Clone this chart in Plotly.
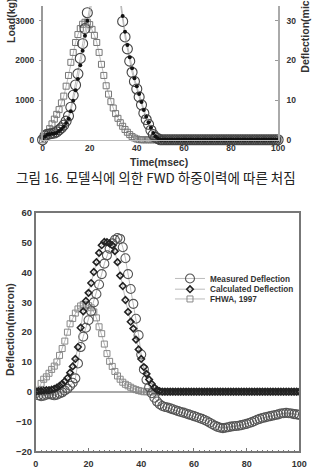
import plotly.graph_objects as go

# ---------------- data ----------------
t_ms = list(range(0, 101))

# top chart: model FWD load history (kg) and deflections (micron)
top_load = [0, 80, 170, 280, 400, 520, 640, 760, 930, 1100, 1350, 1620, 1950, 2200, 2450, 2650,
            2800, 2910, 2960, 2960, 2900, 2780, 2630, 2450, 2200, 1900, 1620, 1360, 1150, 960,
            800, 660, 540, 430, 340, 260, 190, 130, 80, 45, 20, 5] + [0] * 59
top_measured = [0, 1.0, 1.4, 1.5, 1.6, 1.7, 2.0, 2.5, 3.0, 3.7, 4.7, 6.0, 8.2, 11.2, 13.8, 16.6,
                20.5, 24.2, 28.0, 32.0, 35.8, 39.5, 43.0, 46.0, 48.5, 50.3, 51.2, 51.3, 50.5, 48.8,
                46.3, 43.0, 39.0, 34.5, 29.8, 25.9, 22.9, 19.8, 17.0, 14.7, 12.8, 10.8, 8.8, 6.7,
                5.1, 3.9, 2.4, 1.3, 0.6, 0.3] + [0] * 51
top_calculated = [0, 0.8, 1.3, 1.4, 1.5, 1.6, 1.8, 2.2, 2.7, 3.3, 4.2, 5.3, 7.2, 9.8, 12.5, 15.3,
                  18.8, 22.4, 26.2, 30.0, 33.8, 37.6, 41.2, 44.4, 47.2, 49.4, 50.8, 51.4, 51.0, 49.6,
                  47.3, 44.2, 40.3, 35.8, 31.2, 27.2, 23.9, 20.8, 18.0, 15.5, 13.5, 11.5, 9.5, 7.5,
                  5.8, 4.4, 3.0, 1.7, 0.8, 0.3] + [0] * 51

# bottom chart: deflection (micron)
measured = [-0.5, -1.2, -1.5, -1.3, -1.0, -0.8, -1.0, -1.2, -1.0, -0.6, -0.2, 0.4, 1.0, 2.0, 3.0,
            4.5, 9.5, 15.0, 18.5, 21.5, 24.0, 27.0, 30.0, 32.8, 36.0, 39.5, 43.0, 45.8, 48.0, 49.8,
            51.0, 51.6, 51.3, 48.5, 44.8, 39.5, 34.5, 29.5, 24.5, 19.0, 12.5, 7.5, 4.0, 1.5, -0.5,
            -2.0, -3.3, -4.2, -4.8, -5.1, -5.3, -5.6, -5.9, -6.2, -6.5, -6.8, -7.0, -7.3, -7.6,
            -7.9, -8.2, -8.5, -8.8, -9.1, -9.5, -9.9, -10.4, -10.9, -11.4, -11.8, -12.1, -12.2,
            -12.1, -11.9, -11.7, -11.6, -11.5, -11.4, -11.2, -11.0, -10.8, -10.5, -10.2, -9.8,
            -9.4, -9.1, -8.8, -8.6, -8.4, -8.2, -8.0, -7.8, -7.6, -7.3, -7.2, -7.1, -7.2, -7.3,
            -7.5, -7.6, -7.8]
calculated = [0, 0.2, 0.3, 0.4, 0.5, 0.5, 0.7, 1.0, 1.4, 2.0, 2.6, 3.5, 4.6, 6.4, 8.5, 11.0, 15.0,
              21.5, 27.0, 30.5, 33.2, 36.5, 40.2, 43.5, 46.6, 49.2, 50.3, 50.2, 49.8, 49.2, 47.2,
              43.5, 39.0, 35.5, 30.8, 26.8, 23.5, 21.2, 17.5, 14.2, 11.0, 8.3, 6.0, 4.1, 2.6, 1.4,
              0.6, 0.2] + [0] * 53
fhwa = [0, 0.5, 2.8, 4.2, 5.0, 6.2, 7.5, 8.6, 10.0, 12.2, 14.5, 17.0, 20.0, 22.8, 24.6, 26.4, 27.8,
        28.8, 29.3, 29.3, 28.9, 28.2, 26.8, 24.8, 21.8, 19.5, 16.0, 12.8, 10.2, 8.5, 6.8, 5.3,
        4.2, 3.2, 2.5, 2.0, 1.5, 1.0, 0.7, 0.4, 0.2] + [0] * 60

x_ticks = [0, 20, 40, 60, 80, 100]
load_ticks = [0, 1000, 2000, 3000]
defl_ticks_top = [0, 10, 20, 30]
defl_ticks_bottom = [-20, -10, 0, 10, 20, 30, 40, 50, 60]

legend_names = ["Measured Deflection", "Calculated Deflection", "FHWA, 1997"]
caption = "그림 16. 모델식에 의한 FWD 하중이력에 따른 처짐"

# ---------------- figure ----------------
W, H = 317, 469
FONT = "Arial, Liberation Sans, sans-serif"
tickfont_top = dict(family=FONT, size=8.5, color="#333", weight="bold")
tickfont_bx = dict(family=FONT, size=9, color="#333", weight="bold")
tickfont_by = dict(family=FONT, size=9.5, color="#333", weight="bold")
LINE = dict(color="#aaaaaa", width=0.8)

fig = go.Figure()

# top chart traces
fig.add_trace(go.Scatter(x=t_ms, y=top_load, xaxis="x", yaxis="y", mode="lines+markers",
                         line=LINE, cliponaxis=False, showlegend=False,
                         marker=dict(symbol="square-open", size=6, color="#777",
                                     line=dict(width=1, color="#777"))))
fig.add_trace(go.Scatter(x=t_ms, y=top_measured, xaxis="x", yaxis="y2", mode="lines+markers",
                         line=LINE, cliponaxis=False, showlegend=False,
                         marker=dict(symbol="circle-open", size=10, color="#444",
                                     line=dict(width=1.1, color="#444"))))
fig.add_trace(go.Scatter(x=t_ms, y=top_calculated, xaxis="x", yaxis="y2", mode="lines+markers",
                         line=LINE, cliponaxis=False, showlegend=False,
                         marker=dict(symbol="circle", size=4, color="#111")))

# bottom chart traces (drawn FHWA, measured, calculated), legends separate
fig.add_trace(go.Scatter(x=t_ms, y=fhwa, xaxis="x3", yaxis="y3", mode="lines+markers",
                         line=LINE, name=legend_names[2], legend="legend3",
                         marker=dict(symbol="square-open", size=6, color="#888",
                                     line=dict(width=1, color="#888"))))
fig.add_trace(go.Scatter(x=t_ms, y=measured, xaxis="x3", yaxis="y3", mode="lines+markers",
                         line=LINE, name=legend_names[0], legend="legend",
                         marker=dict(symbol="circle-open", size=9, color="#555",
                                     line=dict(width=1.1, color="#555"))))
fig.add_trace(go.Scatter(x=t_ms, y=calculated, xaxis="x3", yaxis="y3", mode="lines+markers",
                         line=LINE, name=legend_names[1], legend="legend2",
                         marker=dict(symbol="diamond-open", size=5, color="#222",
                                     line=dict(width=1.6, color="#222"))))

top_dom_y = [1 - 137 / H, 1.0]
bot_dom_y = [1 - 456 / H, 1 - 212 / H]

leg_common = dict(xanchor="left", yanchor="middle", bgcolor="rgba(0,0,0,0)",
                  font=dict(family=FONT, size=8.2, color="#333", weight="bold"),
                  itemwidth=30, tracegroupgap=0)
leg_x = 173 / W

fig.update_layout(
    width=W, height=H, autosize=False,
    margin=dict(l=0, r=0, t=0, b=0),
    paper_bgcolor="white", plot_bgcolor="white",
    xaxis=dict(domain=[41 / W, 285 / W], range=[0, 100], tickvals=x_ticks,
               showgrid=False, zeroline=False, showline=True, linecolor="#bbb", linewidth=1,
               ticks="", tickfont=tickfont_top, anchor="y"),
    yaxis=dict(domain=top_dom_y, range=[0, 3369], tickvals=load_ticks, showgrid=False,
               zeroline=False, showline=True, linecolor="#999", linewidth=1.5,
               ticks="outside", ticklen=2, tickcolor="#999", tickfont=tickfont_top,
               ticklabelstandoff=3, anchor="x"),
    yaxis2=dict(domain=top_dom_y, range=[0, 33.69], tickvals=defl_ticks_top, showgrid=False,
                zeroline=False, showline=True, linecolor="#aaa", linewidth=1.5,
                ticks="inside", ticklen=3, tickcolor="#999", tickfont=tickfont_top,
                overlaying="y", side="right", anchor="x", ticklabelstandoff=5),
    xaxis3=dict(domain=[34 / W, 307 / W], range=[0, 100], tickvals=x_ticks, showgrid=False,
                zeroline=False, showline=True, mirror=True, linecolor="#777", linewidth=1.5,
                ticks="inside", ticklen=4, tickcolor="#777", tickfont=tickfont_bx,
                minor=dict(dtick=2, ticks="inside", ticklen=2, tickcolor="#777"),
                ticklabelstandoff=3, anchor="y3"),
    yaxis3=dict(domain=bot_dom_y, range=[-20, 60], tickvals=defl_ticks_bottom, showgrid=False,
                zeroline=True, zerolinecolor="#aaa", zerolinewidth=1.5,
                showline=True, mirror=True, linecolor="#777", linewidth=1.5,
                ticks="", tickfont=tickfont_by, anchor="x3"),
    legend=dict(x=leg_x, y=1 - 279 / H, **leg_common),
    legend2=dict(x=leg_x, y=1 - 290 / H, **leg_common),
    legend3=dict(x=leg_x, y=1 - 300 / H, **leg_common),
)

title_font = dict(family=FONT, size=10.5, color="#333", weight="bold")
fig.add_annotation(text="Load(kg)", textangle=-90, xref="paper", yref="paper",
                   x=7.5 / W, y=1 - 15 / H, xanchor="center", yanchor="middle",
                   showarrow=False, font=title_font)
fig.add_annotation(text="Deflection(micron)", textangle=-90, xref="paper", yref="paper",
                   x=312 / W, y=1 - 21 / H, xanchor="center", yanchor="middle",
                   showarrow=False, font=title_font)
fig.add_annotation(text="Time(msec)", xref="paper", yref="paper",
                   x=161.5 / W, y=1 - 160 / H, xanchor="center", yanchor="middle",
                   showarrow=False, font=title_font)
fig.add_annotation(text=caption, xref="paper", yref="paper",
                   x=159 / W, y=1 - 175 / H, xanchor="center", yanchor="middle",
                   showarrow=False,
                   font=dict(family="Noto Sans CJK KR", size=13.5, color="#222"))
fig.add_annotation(text="Deflection(micron)", textangle=-90, xref="paper", yref="paper",
                   x=8 / W, y=1 - 331 / H, xanchor="center", yanchor="middle",
                   showarrow=False, font=title_font)

fig.write_html("out.html")
